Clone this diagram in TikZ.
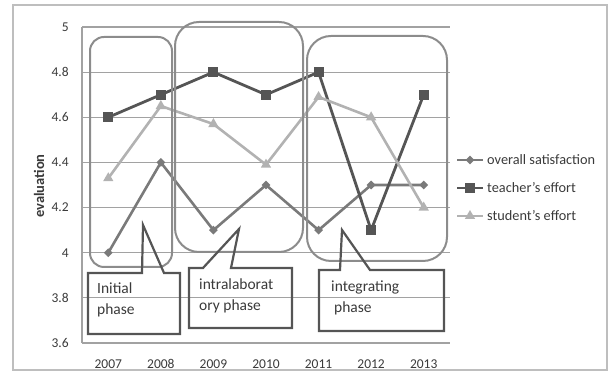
\documentclass[tikz,border=0pt]{standalone}
\usepackage{fontspec}
\setmainfont{Carlito}
\usepackage{xcolor}
\usepackage{tikz}
\usetikzlibrary{shapes.geometric,positioning,calc}

\definecolor{gridgray}{HTML}{A2A2A2}
\definecolor{boxgray}{HTML}{8C8C8C}
\definecolor{callgray}{HTML}{555555}
\definecolor{satgray}{HTML}{7A7A7A}
\definecolor{teagray}{HTML}{555555}
\definecolor{stugray}{HTML}{B2B2B2}
\definecolor{txtgray}{HTML}{3A3A3A}

\tikzset{
  grid line/.style={draw=gridgray, line width=1.2pt},
  phase box/.style={draw=boxgray, line width=2pt, rounded corners=#1},
  callout/.style={draw=callgray, line width=2.2pt, line join=miter},
  tick/.style={font=\fontsize{13.5}{15}\selectfont, text=txtgray, inner sep=1pt},
  legend text/.style={font=\fontsize{14.3}{16}\selectfont, text=txtgray, anchor=west, inner sep=0pt},
  phase text/.style={font=\fontsize{15.5}{21}\selectfont, text=txtgray, align=left, anchor=west, inner sep=0pt},
  sat line/.style={draw=satgray, line width=2.6pt},
  tea line/.style={draw=teagray, line width=2.8pt},
  stu line/.style={draw=stugray, line width=2.6pt},
  mk sat/.style={diamond, fill=satgray, inner sep=0pt, minimum size=9pt},
  mk tea/.style={rectangle, fill=teagray, inner sep=0pt, minimum size=10pt},
  mk stu/.style={regular polygon, regular polygon sides=3, fill=stugray, inner sep=0pt, minimum size=12pt}
}

\begin{document}
\begin{tikzpicture}[x=1pt,y=1pt]
  \useasboundingbox (0,0) rectangle (608,371);
  % chart frame
  \draw[gridgray!70, line width=1.2pt] (13,1) rectangle (607,366);

  \begin{scope}[x=52.57pt, y=225.7pt, shift={(82pt,28pt)}]
    % grid and axis
    \foreach \y in {0,0.2,...,1.41}
      \draw[grid line] (0,\y) -- (7,\y);
    \draw[grid line] (0,0) -- (0,1.4);
    \foreach \t [count=\k from 0] in {3.6,3.8,4,4.2,4.4,4.6,4.8,5}
      \node[tick, anchor=east] (yl\k) at (-0.23,\k*0.2) {\t};
    \foreach \yr [count=\i] in {2007,2008,2009,2010,2011,2012,2013}
      \node[tick] (xl\i) at (\i-0.5,-0.093) {\yr};

    % data points
    \foreach \v [count=\i] in {4.0,4.4,4.1,4.3,4.1,4.3,4.3}
      \coordinate (s\i) at (\i-0.5,\v-3.6);
    \foreach \v [count=\i] in {4.6,4.7,4.8,4.7,4.8,4.1,4.7}
      \coordinate (t\i) at (\i-0.5,\v-3.6);
    \foreach \v [count=\i] in {4.33,4.65,4.57,4.39,4.69,4.6,4.2}
      \coordinate (u\i) at (\i-0.5,\v-3.6);

    % overall satisfaction
    \draw[sat line] (s1) \foreach \i in {2,...,7}{-- (s\i)};
    \foreach \i in {1,...,7}
      \node[mk sat] (ms\i) at (s\i) {};
    % teacher's effort
    \draw[tea line] (t1) \foreach \i in {2,...,7}{-- (t\i)};
    \foreach \i in {1,...,7}
      \node[mk tea] (mt\i) at (t\i) {};
    % student's effort
    \draw[stu line] (u1) \foreach \i in {2,...,7}{-- (u\i)};
    \foreach \i in {1,...,7}
      \node[mk stu] (mu\i) at (u\i) {};
  \end{scope}

  \node[font=\fontsize{14.5}{16}\selectfont\bfseries, text=txtgray, rotate=90] (ylab) at (39,185) {evaluation};

  % legend
  \coordinate (la1) at (457,211); \coordinate (lb1) at (483,211);
  \coordinate (la2) at (457,183); \coordinate (lb2) at (483,183);
  \coordinate (la3) at (457,155); \coordinate (lb3) at (483,155);
  \draw[sat line] (la1) -- (lb1);
  \node[mk sat] (lm1) at ($(la1)!0.5!(lb1)$) {};
  \draw[tea line] (la2) -- (lb2);
  \node[mk tea] (lm2) at ($(la2)!0.5!(lb2)$) {};
  \draw[stu line] (la3) -- (lb3);
  \node[mk stu] (lm3) at ($(la3)!0.5!(lb3)$) {};
  \node[legend text] (lt1) at (487,211) {overall satisfaction};
  \node[legend text] (lt2) at (487,183) {teacher's effort};
  \node[legend text] (lt3) at (487,155) {student's effort};

  % phase boxes
  \draw[phase box=14pt] (90,104) rectangle (172,334);
  \draw[phase box=24pt] (175,119) rectangle (303,349);
  \draw[phase box=24pt] (307,110) rectangle (447,335);

  % callouts
  \draw[callout] (88,98) -- (142,98) -- (143,146) -- (164,98) -- (180,98)
    -- (180,37) -- (88,37) -- cycle;
  \node[phase text] (p1) at (97,71.5) {Initial\\phase};

  \draw[callout] (189,103) -- (203,103) -- (239,142) -- (231,103) -- (292,103)
    -- (292,43) -- (189,43) -- cycle;
  \node[phase text] (p2) at (199,75.5) {intralaborat\\ory phase};

  \draw[callout] (319,101) -- (340,101) -- (342,141) -- (370,101) -- (444,101)
    -- (444,40) -- (319,40) -- cycle;
  \node[phase text] (p3) at (331,73) {integrating\\\hspace{3pt}phase};
\end{tikzpicture}
\end{document}
